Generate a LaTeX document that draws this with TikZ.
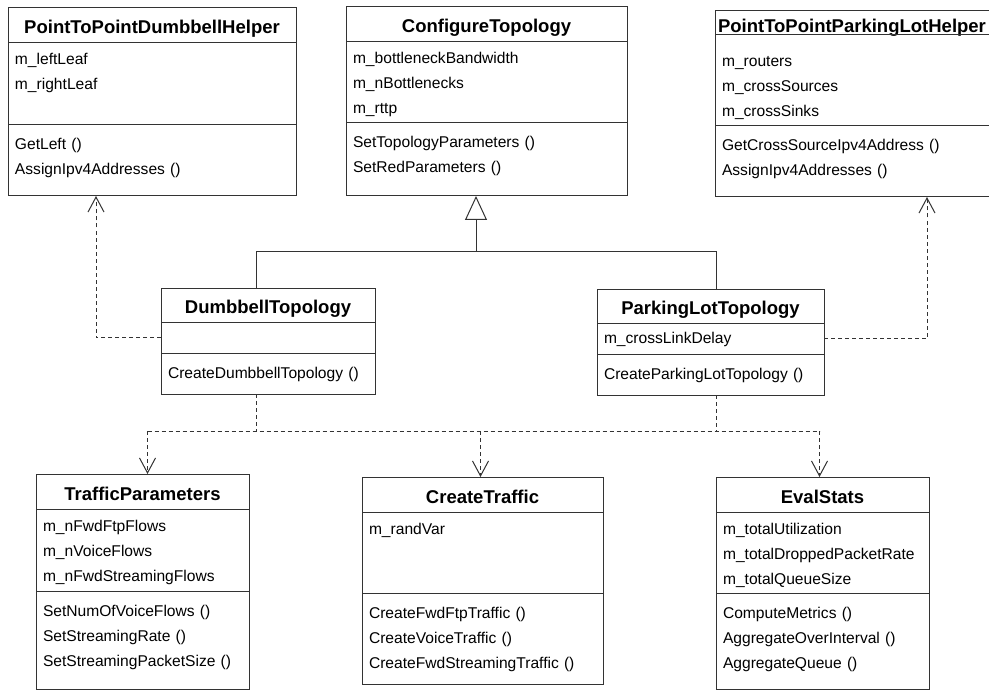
\documentclass[tikz,border=0pt]{standalone}
\usepackage{fontspec}
\setmainfont{Liberation Sans}
\usetikzlibrary{arrows.meta, positioning}

\begin{document}
\begin{tikzpicture}[x=1pt, y=-1pt,
    box/.style={draw=black!80, line width=1pt, outer sep=0pt},
    cname/.style={box, font=\fontsize{18.5}{20}\selectfont\bfseries, minimum height=35pt, inner sep=0pt,
      text height=17pt, text depth=0pt},
    cpart/.style={box, font=\fontsize{15.6}{25}\selectfont, align=left, inner xsep=7pt, inner ysep=0pt, text height=22pt},
    meth/.style={cpart, text height=25pt},
    link/.style={draw=black!80, line width=1pt},
    gen/.style={link, -{Triangle[open, length=24pt, width=22pt]}},
    bus/.style={link, dash pattern=on 4pt off 3pt},
    dep/.style={bus, -{Straight Barb[length=15pt, width=16pt]}},
    ]
    \useasboundingbox (0,0) rectangle (989,690);

    % PointToPointDumbbellHelper
    \node[cname, minimum width=288pt, anchor=north west] (ddh) at (8,8) {PointToPointDumbbellHelper};
    \node[cpart, text width=274pt, text depth=60pt, below=0pt of ddh] (ddhA) {m\_leftLeaf\\m\_rightLeaf};
    \node[meth, text width=274pt, text depth=46pt, below=0pt of ddhA] (ddhM) {GetLeft ()\\AssignIpv4Addresses ()};

    % ConfigureTopology
    \node[cname, minimum width=281pt, anchor=north west] (ct) at (346,7) {ConfigureTopology};
    \node[cpart, text width=267pt, text depth=59pt, below=0pt of ct] (ctA) {m\_bottleneckBandwidth\\m\_nBottlenecks\\m\_rttp};
    \node[meth, text width=267pt, text depth=48pt, below=0pt of ctA] (ctM) {SetTopologyParameters ()\\SetRedParameters ()};

    % PointToPointParkingLotHelper
    \node[cname, minimum width=290pt, minimum height=24pt, text width=284pt, inner xsep=3pt, align=left,
      text height=20pt, anchor=north west] (plh) at (715,11) {PointToPointParkingLotHelper};
    \node[cpart, text width=276pt, text height=32pt, text depth=59pt, below=0pt of plh] (plhA) {m\_routers\\m\_crossSources\\m\_crossSinks};
    \node[meth, text width=276pt, text depth=46pt, below=0pt of plhA] (plhM) {GetCrossSourceIpv4Address ()\\AssignIpv4Addresses ()};

    % DumbbellTopology
    \node[cname, minimum width=214pt, minimum height=34pt, anchor=north west] (dt) at (161,288) {DumbbellTopology};
    \node[cpart, text width=200pt, text depth=9pt, below=0pt of dt] (dtA) {};
    \node[meth, text width=200pt, text depth=16pt, below=0pt of dtA] (dtM) {CreateDumbbellTopology ()};

    % ParkingLotTopology
    \node[cname, minimum width=227pt, minimum height=34pt, anchor=north west] (plt) at (597,289) {ParkingLotTopology};
    \node[cpart, text width=213pt, text height=20pt, text depth=11pt, below=0pt of plt] (pltA) {m\_crossLinkDelay};
    \node[meth, text width=213pt, text depth=16pt, below=0pt of pltA] (pltM) {CreateParkingLotTopology ()};

    % TrafficParameters
    \node[cname, minimum width=213pt, anchor=north west] (tp) at (36,474) {TrafficParameters};
    \node[cpart, text width=199pt, text depth=60pt, below=0pt of tp] (tpA) {m\_nFwdFtpFlows\\m\_nVoiceFlows\\m\_nFwdStreamingFlows};
    \node[meth, text width=199pt, text depth=73pt, below=0pt of tpA] (tpM) {SetNumOfVoiceFlows ()\\SetStreamingRate ()\\SetStreamingPacketSize ()};

    % CreateTraffic
    \node[cname, minimum width=241pt, anchor=north west] (ctr) at (362,477) {CreateTraffic};
    \node[cpart, text width=227pt, text depth=59pt, below=0pt of ctr] (ctrA) {m\_randVar};
    \node[meth, text width=227pt, text depth=66pt, below=0pt of ctrA] (ctrM) {CreateFwdFtpTraffic ()\\CreateVoiceTraffic ()\\CreateFwdStreamingTraffic ()};

    % EvalStats
    \node[cname, minimum width=213pt, anchor=north west] (es) at (716,477) {EvalStats};
    \node[cpart, text width=199pt, text depth=59pt, below=0pt of es] (esA) {m\_totalUtilization\\m\_totalDroppedPacketRate\\m\_totalQueueSize};
    \node[meth, text width=199pt, text depth=71pt, below=0pt of esA] (esM) {ComputeMetrics ()\\AggregateOverInterval ()\\AggregateQueue ()};

    % Generalization
    \coordinate (junction) at (476,252);
    \draw[gen] ([xshift=-12pt]dt.north) |- (junction) -- (ctM.south -| junction);
    \draw[link] ([xshift=6pt]plt.north) |- (junction);

    % Helpers
    \draw[dep] (dtA.west) -| ([xshift=-56pt]ddhM.south);
    \draw[dep] (pltA.east) -| ([xshift=67pt]plhM.south);

    % Uses
    \coordinate (bus) at (0,431);
    \draw[bus] ([xshift=-12pt]dtM.south) -- ([xshift=-12pt]dtM.south |- bus);
    \draw[bus] ([xshift=6pt]pltM.south) -- ([xshift=6pt]pltM.south |- bus);
    \draw[bus] ([xshift=5pt]tp.north |- bus) -- ([xshift=-3pt]es.north |- bus);
    \draw[dep] ([xshift=5pt]tp.north |- bus) -- ([xshift=5pt]tp.north);
    \draw[dep] ([xshift=-2pt]ctr.north |- bus) -- ([xshift=-2pt]ctr.north);
    \draw[dep] ([xshift=-3pt]es.north |- bus) -- ([xshift=-3pt]es.north);
\end{tikzpicture}
\end{document}
